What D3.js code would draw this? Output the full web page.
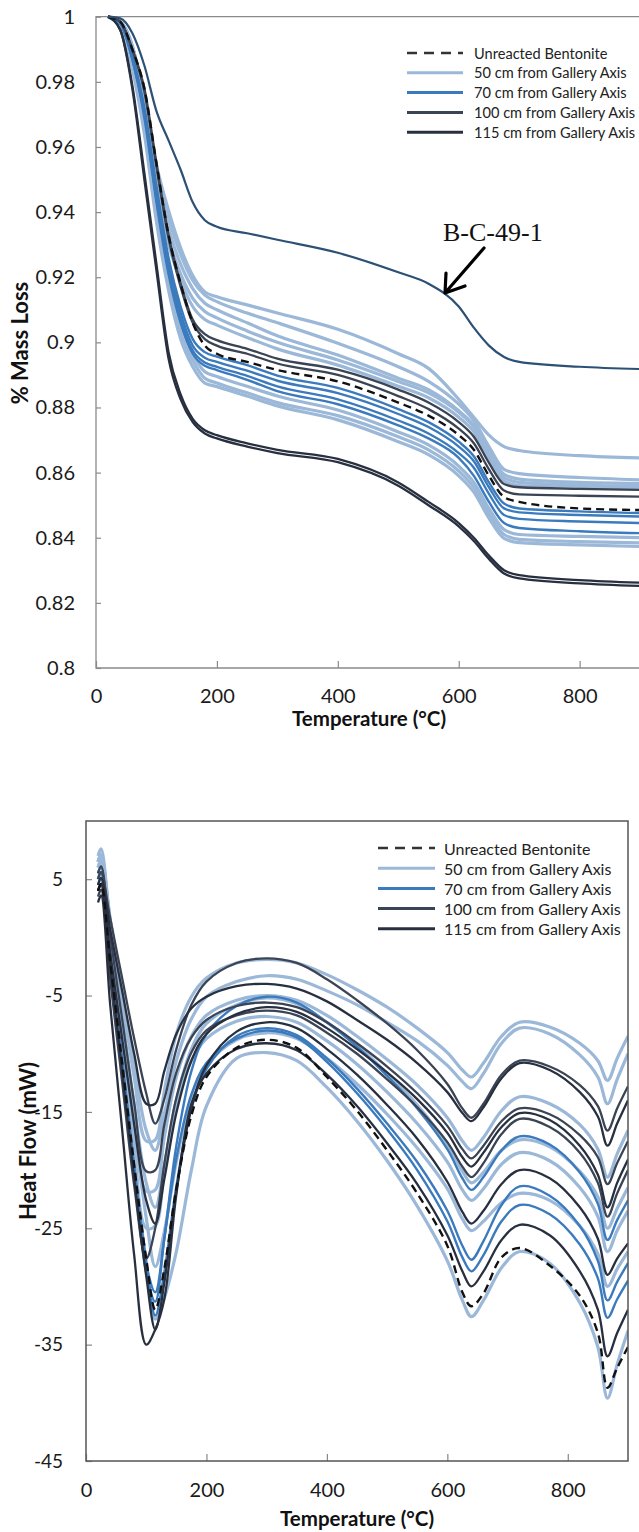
<!DOCTYPE html>
<html><head><meta charset="utf-8">
<script src="https://cdn.jsdelivr.net/npm/d3@7"></script>
<style>body{margin:0;background:#fff;} svg{display:block;}</style>
</head><body><svg id="c" width="639" height="1532"></svg>
<script>
// ---------------- TGA (top) data ----------------
const tgaTemps = [20, 40, 60, 80, 100, 120, 140, 160, 180, 200, 250, 300, 400, 500, 550, 600, 625, 650, 675, 700, 800, 900];
const tgaUnreacted = [1, 0.9985, 0.99, 0.978, 0.955, 0.933, 0.918, 0.906, 0.899, 0.8965, 0.894, 0.8915, 0.888, 0.8815, 0.8775, 0.8715, 0.867, 0.859, 0.8525, 0.851, 0.849, 0.8485];
const tgaBC491 = [1, 0.9995, 0.995, 0.985, 0.971, 0.962, 0.953, 0.943, 0.9375, 0.9355, 0.9335, 0.9315, 0.9275, 0.9215, 0.918, 0.911, 0.9045, 0.899, 0.8955, 0.894, 0.8925, 0.8918];
const tga50a = [1, 0.9985, 0.991, 0.975, 0.9545, 0.9405, 0.929, 0.9205, 0.9155, 0.914, 0.9115, 0.909, 0.904, 0.8965, 0.892, 0.8825, 0.877, 0.8715, 0.868, 0.8668, 0.8652, 0.8645];
const tga50b = [1, 0.9985, 0.991, 0.974, 0.952, 0.938, 0.927, 0.919, 0.9145, 0.9125, 0.909, 0.906, 0.8997, 0.8925, 0.888, 0.881, 0.876, 0.868, 0.861, 0.8597, 0.8585, 0.8578];
const tga50c = [1, 0.9985, 0.991, 0.973, 0.950, 0.935, 0.924, 0.9165, 0.912, 0.910, 0.906, 0.902, 0.8961, 0.889, 0.8855, 0.879, 0.8745, 0.8665, 0.8595, 0.858, 0.857, 0.8567];
const tga50d = [1, 0.998, 0.990, 0.972, 0.948, 0.932, 0.921, 0.9135, 0.9095, 0.9075, 0.9035, 0.900, 0.8946, 0.888, 0.8845, 0.8785, 0.874, 0.8655, 0.8585, 0.857, 0.8562, 0.8558];
const tga50e = [1, 0.998, 0.990, 0.971, 0.946, 0.930, 0.919, 0.911, 0.907, 0.9053, 0.9015, 0.898, 0.893, 0.8865, 0.883, 0.877, 0.8725, 0.864, 0.8575, 0.856, 0.8555, 0.8552];
const tga50f = [1, 0.997, 0.986, 0.967, 0.941, 0.921, 0.906, 0.8965, 0.891, 0.8895, 0.8865, 0.8835, 0.8792, 0.8725, 0.8685, 0.862, 0.857, 0.849, 0.8425, 0.841, 0.8404, 0.840];
const tga50g = [1, 0.997, 0.985, 0.966, 0.939, 0.918, 0.903, 0.8945, 0.889, 0.8875, 0.8845, 0.8815, 0.8775, 0.871, 0.867, 0.8605, 0.8555, 0.8475, 0.841, 0.8395, 0.8388, 0.8384];
const tga50h = [1, 0.997, 0.984, 0.964, 0.937, 0.916, 0.901, 0.8925, 0.8875, 0.8864, 0.8835, 0.8805, 0.8762, 0.8695, 0.8655, 0.859, 0.854, 0.846, 0.8398, 0.8385, 0.8378, 0.8373];
const tga70a = [1, 0.998, 0.988, 0.972, 0.948, 0.926, 0.911, 0.901, 0.897, 0.8956, 0.893, 0.8898, 0.886, 0.8795, 0.8755, 0.8695, 0.865, 0.857, 0.8505, 0.849, 0.8481, 0.8476];
const tga70b = [1, 0.998, 0.988, 0.971, 0.946, 0.924, 0.909, 0.899, 0.8953, 0.894, 0.8913, 0.8882, 0.8844, 0.878, 0.874, 0.868, 0.8635, 0.8555, 0.849, 0.8478, 0.847, 0.8465];
const tga70c = [1, 0.998, 0.987, 0.970, 0.944, 0.922, 0.907, 0.8975, 0.8938, 0.8925, 0.8897, 0.8865, 0.8825, 0.876, 0.872, 0.866, 0.8615, 0.8535, 0.847, 0.8458, 0.845, 0.8445];
const tga70d = [1, 0.998, 0.987, 0.969, 0.943, 0.921, 0.906, 0.8965, 0.8928, 0.8915, 0.8885, 0.885, 0.881, 0.8745, 0.8705, 0.8645, 0.859, 0.851, 0.8445, 0.843, 0.842, 0.8414];
const tga100a = [1, 0.9985, 0.99, 0.978, 0.955, 0.933, 0.918, 0.907, 0.9025, 0.9007, 0.898, 0.895, 0.8916, 0.8855, 0.8815, 0.8755, 0.871, 0.863, 0.8565, 0.8555, 0.855, 0.8547];
const tga100b = [1, 0.9985, 0.99, 0.977, 0.954, 0.932, 0.917, 0.906, 0.901, 0.899, 0.8965, 0.8935, 0.890, 0.8835, 0.8795, 0.8735, 0.869, 0.861, 0.8545, 0.8533, 0.8529, 0.8526];
const tga115a = [1, 0.996, 0.979, 0.952, 0.924, 0.897, 0.884, 0.8765, 0.873, 0.8715, 0.869, 0.867, 0.8642, 0.857, 0.851, 0.8445, 0.840, 0.8345, 0.830, 0.8285, 0.827, 0.8262];
const tga115b = [1, 0.996, 0.978, 0.950, 0.922, 0.895, 0.8825, 0.8755, 0.872, 0.8705, 0.868, 0.866, 0.8632, 0.856, 0.850, 0.8435, 0.839, 0.8335, 0.829, 0.8275, 0.826, 0.8252];
const tgaYTicks = [0.8, 0.82, 0.84, 0.86, 0.88, 0.9, 0.92, 0.94, 0.96, 0.98, 1];
const tgaYTickLabels = ["0.8", "0.82", "0.84", "0.86", "0.88", "0.9", "0.92", "0.94", "0.96", "0.98", "1"];
const xTicks = [0, 200, 400, 600, 800];
const xTickLabels = ["0", "200", "400", "600", "800"];

// ---------------- DSC (bottom) data ----------------
const dscTemps = [20, 25, 40, 60, 80, 100, 115, 130, 150, 175, 200, 250, 300, 350, 400, 450, 500, 550, 600, 625, 640, 660, 690, 720, 770, 820, 850, 866, 882, 900];
const dscUnreacted = [4.0, 4.6, -2.0, -10.8, -19.6, -27.6, -32.0, -28.5, -21.6, -15.3, -12.0, -9.5, -8.8, -9.5, -12.0, -14.9, -18.3, -22.0, -26.5, -30.5, -31.7, -30.6, -27.5, -26.7, -28.2, -30.8, -34.0, -38.7, -37.0, -35.2];
const dsc50a = [6.5, 7.1, 1.6, -5.2, -12.0, -17.5, -17.4, -13.2, -8.3, -5.1, -3.5, -2.2, -1.9, -2.2, -3.2, -4.5, -6.0, -7.8, -9.9, -11.4, -12.0, -10.8, -8.5, -7.3, -7.7, -9.1, -10.6, -12.3, -10.4, -8.5];
const dsc50b = [6.0, 6.6, 1.6, -4.7, -11.0, -16.6, -18.3, -15.2, -10.6, -7.0, -5.1, -3.8, -3.3, -3.6, -4.6, -5.8, -7.3, -8.9, -11.0, -12.4, -13.0, -11.7, -9.1, -7.8, -8.3, -10.1, -12.0, -14.3, -12.2, -10.0];
const dsc50c = [7.0, 7.6, 1.0, -7.1, -15.2, -21.8, -21.7, -17.2, -12.0, -8.5, -6.7, -5.4, -5.0, -5.4, -6.7, -8.5, -10.5, -12.7, -15.5, -17.5, -18.3, -17.2, -14.9, -13.7, -14.3, -16.1, -18.2, -20.6, -18.6, -16.6];
const dsc50d = [6.5, 7.1, 1.0, -6.7, -14.4, -21.1, -23.2, -19.6, -14.0, -9.6, -7.4, -5.8, -5.2, -5.7, -7.3, -9.3, -11.7, -14.4, -17.8, -20.1, -21.1, -20.2, -18.3, -17.4, -18.0, -20.1, -22.3, -25.0, -23.3, -21.5];
const dsc50e = [5.0, 5.6, -1.3, -9.7, -18.1, -25.0, -24.8, -20.0, -14.3, -10.6, -8.7, -7.2, -6.8, -7.3, -8.9, -10.9, -13.3, -16.0, -19.3, -21.7, -22.6, -21.6, -19.5, -18.5, -19.2, -21.5, -24.0, -27.0, -25.2, -23.5];
const dsc50f = [6.0, 6.6, 0.3, -8.1, -16.4, -24.1, -28.3, -25.3, -19.3, -13.8, -11.0, -8.8, -8.2, -8.7, -10.4, -12.6, -15.2, -18.1, -21.6, -24.2, -25.2, -24.4, -22.8, -22.0, -22.6, -24.8, -27.2, -30.0, -28.5, -27.0];
const dsc50g = [6.5, 7.1, -0.1, -9.7, -19.2, -28.0, -32.8, -31.0, -27.0, -20.0, -14.5, -10.4, -9.9, -10.6, -12.9, -15.8, -19.2, -23.1, -27.8, -31.2, -32.6, -31.2, -28.4, -27.0, -28.0, -31.4, -35.2, -39.6, -36.7, -33.8];
const dsc70a = [5.5, 6.1, -1.5, -11.0, -20.4, -28.8, -31.3, -25.9, -17.9, -11.5, -8.3, -5.9, -5.1, -5.6, -7.3, -9.4, -11.9, -14.7, -18.2, -20.7, -21.7, -20.6, -18.3, -17.1, -17.8, -20.2, -22.9, -26.0, -24.3, -22.6];
const dsc70b = [5.0, 5.6, -1.3, -10.4, -19.6, -27.9, -32.5, -28.8, -21.4, -14.7, -11.3, -8.5, -7.8, -8.4, -10.4, -13.0, -16.0, -19.3, -23.5, -26.5, -27.7, -26.1, -23.0, -21.4, -22.2, -24.8, -27.8, -31.2, -29.6, -28.0];
const dsc70c = [4.5, 5.1, -2.1, -11.2, -20.2, -28.1, -30.5, -25.9, -19.0, -13.5, -10.8, -8.7, -8.0, -8.6, -10.7, -13.4, -16.5, -20.0, -24.4, -27.5, -28.7, -27.3, -24.4, -23.0, -23.8, -26.4, -29.3, -32.7, -31.1, -29.5];
const dsc100a = [5.0, 5.6, 1.7, -3.5, -8.7, -13.4, -16.0, -13.9, -9.6, -5.8, -3.8, -2.2, -1.8, -2.2, -3.6, -5.4, -7.4, -9.7, -12.6, -14.7, -15.5, -14.3, -11.8, -10.6, -11.1, -12.7, -14.5, -16.6, -14.7, -12.8];
const dsc100b = [5.5, 6.1, 0.2, -7.0, -14.2, -20.1, -20.0, -16.1, -11.6, -8.6, -7.1, -5.9, -5.6, -6.0, -7.3, -9.1, -11.1, -13.4, -16.2, -18.2, -19.0, -17.9, -15.8, -14.7, -15.2, -17.0, -18.9, -21.2, -19.4, -17.5];
const dsc100c = [3.5, 4.1, -3.5, -12.4, -21.3, -27.6, -25.0, -19.5, -13.8, -9.9, -8.0, -6.7, -6.3, -6.7, -8.2, -10.0, -12.2, -14.6, -17.6, -19.7, -20.6, -19.4, -16.9, -15.6, -16.3, -18.5, -21.1, -24.0, -22.0, -20.0];
const dsc115a = [4.5, 5.1, 0.7, -4.6, -10.0, -14.3, -14.3, -11.5, -8.3, -6.1, -5.1, -4.2, -4.0, -4.4, -5.5, -7.1, -8.8, -10.8, -13.3, -15.1, -15.8, -14.6, -12.1, -10.8, -11.4, -13.3, -15.4, -17.9, -16.0, -14.0];
const dsc115b = [4.0, 4.6, -1.3, -8.7, -16.1, -22.6, -24.6, -20.8, -15.1, -10.6, -8.3, -6.6, -6.0, -6.4, -7.8, -9.6, -11.6, -13.9, -16.8, -18.9, -19.7, -18.5, -16.3, -15.1, -15.7, -17.9, -20.4, -23.2, -21.1, -19.1];
const dsc115c = [4.0, 4.6, -2.3, -11.5, -20.7, -29.1, -33.7, -29.7, -21.8, -14.7, -11.0, -8.1, -7.3, -7.8, -9.6, -11.8, -14.4, -17.3, -21.0, -23.6, -24.6, -23.5, -21.2, -20.0, -20.7, -23.2, -25.9, -29.0, -27.6, -26.3];
const dsc115d = [3.0, 3.6, -5.7, -16.5, -27.3, -35.0, -33.7, -31.1, -22.1, -14.3, -11.7, -9.6, -9.1, -9.7, -11.8, -14.5, -17.7, -21.2, -25.6, -28.7, -30.0, -28.7, -26.0, -24.7, -25.6, -28.7, -32.0, -36.0, -34.0, -32.0];
const dscYTicks = [5, -5, -15, -25, -35, -45];
const dscYTickLabels = ["5", "-5", "-15", "-25", "-35", "-45"];

const legendLabels = ["Unreacted Bentonite", "50 cm from Gallery Axis", "70 cm from Gallery Axis", "100 cm from Gallery Axis", "115 cm from Gallery Axis"];
const legendKeys = ["unreacted", "50", "70", "100", "115"];

// ---------------- styles ----------------
const FONT = "Lato, 'Open Sans', sans-serif";
const styles = {
  "unreacted": {stroke: "#111", width: 2.4, dash: "8,5"},
  "50": {stroke: "#9bb8d8", width: 3.2},
  "70": {stroke: "#3b7bbd", width: 2.4},
  "100": {stroke: "#3b4454", width: 2.3},
  "115": {stroke: "#283040", width: 2.3},
  "bc": {stroke: "#2d5075", width: 2.2}
};

const tgaSeries = [
  ["50", tga50a], ["50", tga50b], ["50", tga50c], ["50", tga50d], ["50", tga50e], ["50", tga50f], ["50", tga50g], ["50", tga50h],
  ["70", tga70a], ["70", tga70b], ["70", tga70c], ["70", tga70d],
  ["100", tga100a], ["100", tga100b], ["115", tga115a], ["115", tga115b],
  ["unreacted", tgaUnreacted], ["bc", tgaBC491]
];
const dscSeries = [
  ["50", dsc50a], ["50", dsc50b], ["50", dsc50c], ["50", dsc50d], ["50", dsc50e], ["50", dsc50f], ["50", dsc50g],
  ["70", dsc70a], ["70", dsc70b], ["70", dsc70c],
  ["100", dsc100a], ["100", dsc100b], ["100", dsc100c],
  ["115", dsc115a], ["115", dsc115b], ["115", dsc115c], ["115", dsc115d],
  ["unreacted", dscUnreacted]
];

const svg = d3.select("#c");
const defs = svg.append("defs");

function drawLines(g, series, temps, x, y, curve, clipId) {
  const line = d3.line().x((d, i) => x(temps[i])).y(d => y(d)).curve(curve);
  const gg = g.append("g").attr("clip-path", `url(#${clipId})`);
  series.forEach(([key, vals]) => {
    const s = styles[key];
    gg.append("path").attr("d", line(vals)).attr("fill", "none")
      .attr("stroke", s.stroke).attr("stroke-width", s.width)
      .attr("stroke-dasharray", s.dash || null)
      .attr("stroke-linejoin", "round");
  });
}

function legend(g, x0, x1, tx, y0, dy, fs) {
  legendLabels.forEach((lab, i) => {
    const s = styles[legendKeys[i]];
    const yy = y0 + i * dy;
    g.append("line").attr("x1", x0).attr("x2", x1).attr("y1", yy).attr("y2", yy)
      .attr("stroke", i === 0 ? "#333" : s.stroke).attr("stroke-width", i === 0 ? 2.6 : 3)
      .attr("stroke-dasharray", i === 0 ? "10,7" : null);
    g.append("text").attr("x", tx).attr("y", yy).attr("dominant-baseline", "central")
      .style("font-family", FONT).attr("font-size", fs).attr("fill", "#222").text(lab);
  });
}

// ================= TOP CHART =================
{
  const x = d3.scaleLinear().domain([0, 900]).range([96, 640.1]);
  const y = d3.scaleLinear().domain([0.8, 1]).range([668, 16.7]);
  defs.append("clipPath").attr("id", "clipT").append("rect").attr("x", 96).attr("y", 15).attr("width", 545).attr("height", 653);
  const g = svg.append("g");
  const ax = "#8a8a8a";
  const yAx = g.append("g").attr("transform", "translate(96,0)")
    .call(d3.axisLeft(y).tickValues(tgaYTicks).tickFormat((d, i) => tgaYTickLabels[i]).tickSize(-5).tickPadding(21));
  const xAx = g.append("g").attr("transform", "translate(0,668)")
    .call(d3.axisBottom(x).tickValues(xTicks).tickFormat((d, i) => xTickLabels[i]).tickSize(-7).tickPadding(21));
  [yAx, xAx].forEach(a => {
    a.select(".domain").remove();
    a.selectAll(".tick line").attr("stroke", ax).attr("stroke-width", 1.2);
    a.selectAll(".tick text").attr("font-size", 20).attr("fill", "#1a1a1a").style("font-family", FONT);
  });
  g.append("path").attr("d", `M96,16.7H640.1V668H96Z`).attr("fill", "none").attr("stroke", ax).attr("stroke-width", 1.3);
  drawLines(g, tgaSeries, tgaTemps, x, y, d3.curveMonotoneX, "clipT");
  g.append("text").attr("x", 369).attr("y", 726).attr("text-anchor", "middle").attr("font-size", 20.5)
    .attr("font-weight", "bold").attr("fill", "#111").style("font-family", FONT).text("Temperature (°C)");
  g.append("text").attr("transform", "translate(28,343) rotate(-90)").attr("text-anchor", "middle")
    .attr("font-size", 22).attr("font-weight", "bold").attr("fill", "#111").style("font-family", FONT).text("% Mass Loss");
  legend(g, 407, 463, 474, 53, 19.8, 14.6);
  // annotation
  g.append("text").attr("x", 443).attr("y", 241).style("font-family", "'Liberation Serif', 'Times New Roman', serif")
    .attr("font-size", 26).attr("fill", "#111").text("B-C-49-1");
  g.append("path").attr("d", "M484,248L445,293M445,293L446,273M445,293L465,286").attr("fill", "none")
    .attr("stroke", "#000").attr("stroke-width", 3.2).attr("stroke-linecap", "round").attr("stroke-linejoin", "round");
}

// ================= BOTTOM CHART =================
{
  const x = d3.scaleLinear().domain([0, 900]).range([86, 628]);
  const y = d3.scaleLinear().domain([-45, 10]).range([1461, 821]);
  defs.append("clipPath").attr("id", "clipB").append("rect").attr("x", 86).attr("y", 821).attr("width", 542).attr("height", 640);
  const g = svg.append("g");
  const ax = "#555";
  const yAx = g.append("g").attr("transform", "translate(86,0)")
    .call(d3.axisLeft(y).tickValues(dscYTicks).tickFormat((d, i) => dscYTickLabels[i]).tickSize(-6).tickPadding(23));
  const xAx = g.append("g").attr("transform", "translate(0,1461)")
    .call(d3.axisBottom(x).tickValues(xTicks).tickFormat((d, i) => xTickLabels[i]).tickSize(-7).tickPadding(22));
  [yAx, xAx].forEach(a => {
    a.select(".domain").remove();
    a.selectAll(".tick line").attr("stroke", "#888").attr("stroke-width", 1.2);
    a.selectAll(".tick text").attr("font-size", 19).attr("fill", "#1a1a1a").style("font-family", FONT);
  });
  xAx.selectAll(".tick text").attr("font-size", 20);
  drawLines(g, dscSeries, dscTemps, x, y, d3.curveCatmullRom.alpha(0.5), "clipB");
  g.append("rect").attr("x", 86).attr("y", 821).attr("width", 542).attr("height", 640)
    .attr("fill", "none").attr("stroke", ax).attr("stroke-width", 1.5);
  g.append("text").attr("x", 357).attr("y", 1526).attr("text-anchor", "middle").attr("font-size", 20.5)
    .attr("font-weight", "bold").attr("fill", "#111").style("font-family", FONT).text("Temperature (°C)");
  g.append("text").attr("transform", "translate(36,1141) rotate(-90)").attr("text-anchor", "middle")
    .attr("font-size", 22).attr("font-weight", "bold").attr("fill", "#111").style("font-family", FONT).text("Heat Flow (mW)");
  legend(g, 378, 435, 444, 848, 20.2, 16);
}
</script></body></html>
